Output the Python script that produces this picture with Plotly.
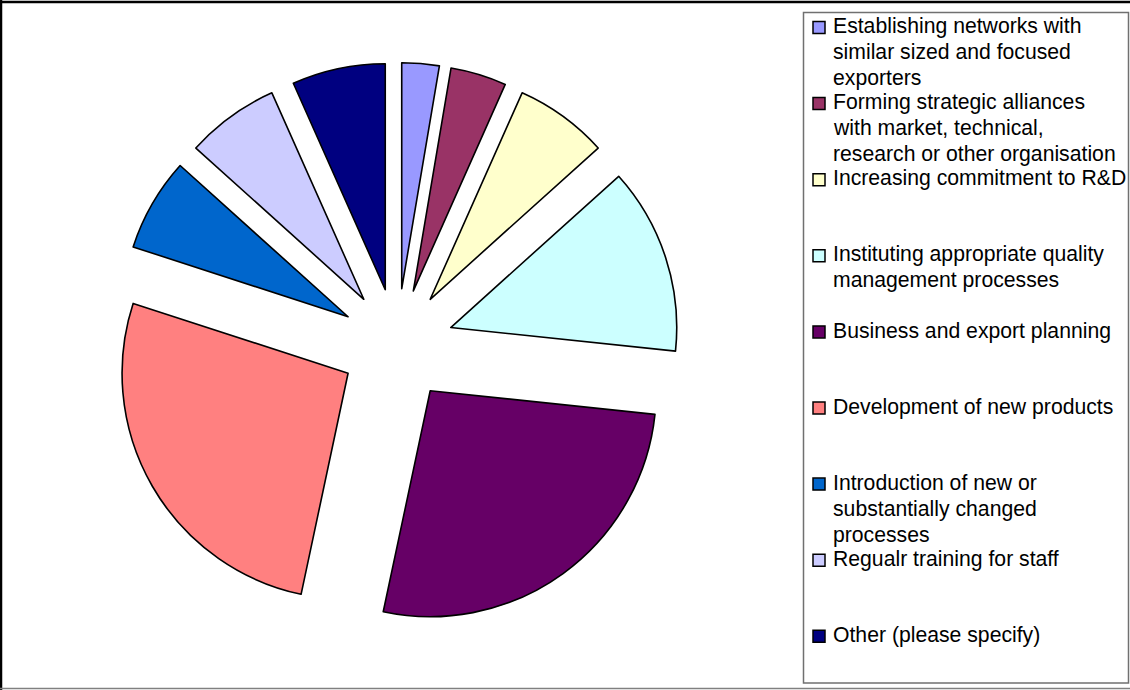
import plotly.graph_objects as go

# Responses per innovation activity
categories = [
    "Establishing networks with similar sized and focused exporters",
    "Forming strategic alliances with market, technical, research or other organisation",
    "Increasing commitment to R&D",
    "Instituting appropriate quality management processes",
    "Business and export planning",
    "Development of new products",
    "Introduction of new or substantially changed processes",
    "Regualr training for staff",
    "Other (please specify)",
]
values = [2, 3, 5, 10, 20, 20, 5, 5, 5]

# Wrapped legend text, one list of lines per category
legend_lines = [
    ["Establishing networks with", "similar sized and focused", "exporters"],
    ["Forming strategic alliances", "with market, technical,", "research or other organisation"],
    ["Increasing commitment to R&D"],
    ["Instituting appropriate quality", "management processes"],
    ["Business and export planning"],
    ["Development of new products"],
    ["Introduction of new or", "substantially changed", "processes"],
    ["Regualr training for staff"],
    ["Other (please specify)"],
]

colors = ["#9999FF", "#993366", "#FFFFCC", "#CCFFFF", "#660066",
          "#FF8080", "#0066CC", "#CCCCFF", "#000080"]

W, H = 1130, 690
FONT = "Liberation Sans, Arial, sans-serif"
FONT_SIZE = 21.2
LINE_GAP = 26
ITEM_STEP = 76.1

fig = go.Figure()
fig.add_trace(go.Pie(
    labels=categories,
    values=values,
    sort=False,
    direction="clockwise",
    rotation=0,
    pull=[0.25] * len(values),
    marker=dict(colors=colors, line=dict(color="black", width=1.6)),
    textinfo="none",
    hoverinfo="label+value+percent",
    showlegend=False,
    domain=dict(x=[114.5 / W, 679.5 / W], y=[1 - 627.5 / H, 1 - 62.5 / H]),
))

shapes = []
annotations = []

# Chart frame
shapes.append(dict(type="line", xref="paper", yref="paper",
                   x0=1 / W, x1=1 / W, y0=0, y1=1,
                   line=dict(color="black", width=2.5)))
shapes.append(dict(type="line", xref="paper", yref="paper",
                   x0=0, x1=1, y0=1 - 2 / H, y1=1 - 2 / H,
                   line=dict(color="black", width=2.5)))
shapes.append(dict(type="line", xref="paper", yref="paper",
                   x0=0, x1=1, y0=1 - 688.5 / H, y1=1 - 688.5 / H,
                   line=dict(color="#808080", width=1.5)))

# Legend box
shapes.append(dict(type="rect", xref="paper", yref="paper",
                   x0=803.5 / W, x1=1128.5 / W, y0=1 - 683 / H, y1=1 - 12.5 / H,
                   line=dict(color="#707070", width=1.5), fillcolor="rgba(0,0,0,0)"))

for i, (lines, col) in enumerate(zip(legend_lines, colors)):
    base = 33 + ITEM_STEP * i
    cy = base - 5.5
    shapes.append(dict(type="rect", xref="paper", yref="paper",
                       x0=813 / W, x1=825 / W,
                       y0=1 - (cy + 6) / H, y1=1 - (cy - 6) / H,
                       fillcolor=col, line=dict(color="black", width=1.5)))
    for k, line in enumerate(lines):
        b = base + LINE_GAP * k
        annotations.append(dict(xref="paper", yref="paper",
                                x=832 / W, y=1 - (b - 19.8) / H,
                                xanchor="left", yanchor="top", align="left",
                                showarrow=False, text=line, borderpad=0,
                                font=dict(family=FONT, size=FONT_SIZE, color="black")))

fig.update_layout(
    width=W, height=H,
    margin=dict(l=0, r=0, t=0, b=0),
    paper_bgcolor="white",
    plot_bgcolor="white",
    shapes=shapes,
    annotations=annotations,
    font=dict(family=FONT),
)

fig.write_html("out.html")
